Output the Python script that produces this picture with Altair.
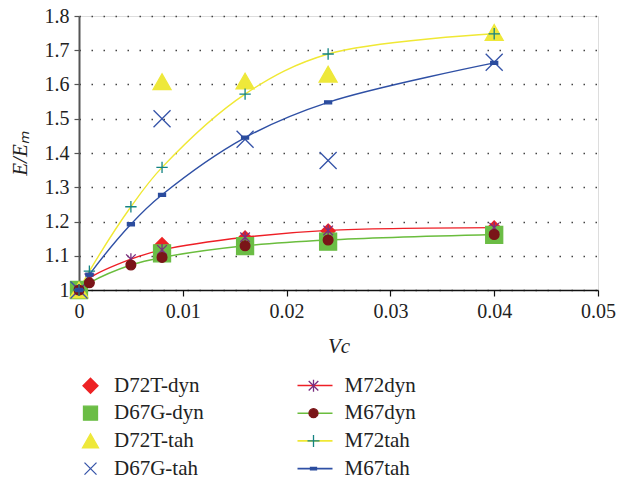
import altair as alt
import pandas as pd

# ---------------- data ----------------
vc_m = [0, 0.001, 0.005, 0.008, 0.016, 0.024, 0.04]
m72dyn = [1.0, 1.034, 1.09, 1.117, 1.154, 1.174, 1.182]
m67dyn = [1.0, 1.021, 1.073, 1.095, 1.129, 1.146, 1.162]
m72tah = [1.0, 1.055, 1.243, 1.358, 1.572, 1.689, 1.748]
m67tah = [1.0, 1.045, 1.192, 1.278, 1.445, 1.548, 1.663]

vc_d = [0, 0.008, 0.016, 0.024, 0.04]
d72t_dyn = [1.0, 1.132, 1.152, 1.172, 1.181]
d67g_dyn = [1.0, 1.107, 1.128, 1.141, 1.161]
d72t_tah = [1.0, 1.608, 1.61, 1.63, 1.752]
d67g_tah = [1.0, 1.5, 1.44, 1.378, 1.665]

m_names = ["M72dyn", "M67dyn", "M72tah", "M67tah"]
d_names = ["D72T-dyn", "D67G-dyn", "D72T-tah", "D67G-tah"]
legend_order = d_names + m_names

FONT = "Liberation Serif"

# marker shapes (unit box -1..1 maps to 16 px at size 256)
shape_map = {
    "D72T-dyn": "M0,-0.94L0.94,0L0,0.94L-0.94,0Z",
    "D67G-dyn": "M-0.875,-0.875L0.875,-0.875L0.875,0.875L-0.875,0.875Z",
    "D72T-tah": "M0,-0.875L1,0.875L-1,0.875Z",
    "D67G-tah": "M-0.75,-0.75L0.75,0.75M-0.75,0.75L0.75,-0.75",
    "M72dyn": "M0,-0.75L0,0.75M-0.6,-0.6L0.6,0.6M-0.6,0.6L0.6,-0.6",
    "M67dyn": "M-0.5625,0A0.5625,0.5625 0 1,0 0.5625,0A0.5625,0.5625 0 1,0 -0.5625,0Z",
    "M72tah": "M-0.75,0L0.75,0M0,-0.75L0,0.75",
    "M67tah": "M-0.375,-0.16L0.375,-0.16L0.375,0.16L-0.375,0.16Z",
}
fill_map = {
    "D72T-dyn": "#ed2224", "D67G-dyn": "#6bbd45", "D72T-tah": "#eee83a", "D67G-tah": "transparent",
    "M72dyn": "transparent", "M67dyn": "#7a1518", "M72tah": "transparent", "M67tah": "#2b4c9e",
}
stroke_map = {
    "D72T-dyn": "#ed2224", "D67G-dyn": "#6bbd45", "D72T-tah": "#eee83a", "D67G-tah": "#3553a8",
    "M72dyn": "#7b2e80", "M67dyn": "#7a1518", "M72tah": "#148383", "M67tah": "#2b4c9e",
}
# marker area on the plot (symbol size units)
size_map = {
    "D72T-dyn": 223, "D67G-dyn": 377, "D72T-tah": 324, "D67G-tah": 514,
    "M72dyn": 256, "M67dyn": 300, "M72tah": 230, "M67tah": 348,
}
line_colors = ["#ee1f26", "#6abd3d", "#f0e834", "#2f50a5"]

m_df = pd.DataFrame(
    [{"vc": x, "e": y, "series": n} for n, ys in zip(m_names, [m72dyn, m67dyn, m72tah, m67tah]) for x, y in zip(vc_m, ys)]
)
d_df = pd.DataFrame(
    [{"vc": x, "e": y, "series": n} for n, ys in zip(d_names, [d72t_dyn, d67g_dyn, d72t_tah, d67g_tah]) for x, y in zip(vc_d, ys)]
)
pts_df = pd.concat([d_df, m_df], ignore_index=True)
pts_df["sz"] = pts_df["series"].map(size_map)

xscale = alt.Scale(domain=[0, 0.05], nice=False, zero=False)
yscale = alt.Scale(domain=[1, 1.8], nice=False, zero=False)

x_axis = alt.Axis(values=[0, 0.01, 0.02, 0.03, 0.04, 0.05], format=".2~f", grid=False, labelFlush=False,
                  labelOverlap=False, domainColor="#111", domainWidth=1.5, tickColor="#111", tickSize=6,
                  tickWidth=1.2, labelPadding=5, labelFont=FONT, labelFontSize=20, labelColor="#222",
                  titleFont=FONT, titleFontSize=21, titleFontStyle="italic", titleFontWeight="normal",
                  titleColor="#222", titlePadding=14)
y_axis = alt.Axis(values=[1, 1.1, 1.2, 1.3, 1.4, 1.5, 1.6, 1.7, 1.8], format=".2~f", grid=True, labelFlush=False,
                  labelOverlap=False, gridColor="#444", gridDash=[1.5, 10.5], gridWidth=1.3,
                  domainColor="#555", domainWidth=2, tickColor="#555", tickSize=5, tickWidth=1.2,
                  labelPadding=5, labelFont=FONT, labelFontSize=20, labelColor="#222",
                  titleFont=FONT, titleFontSize=21, titleFontStyle="italic", titleFontWeight="normal",
                  titleColor="#222", titlePadding=14)

x_enc = alt.X("vc:Q", scale=xscale, title="Vc", axis=x_axis)
y_enc = alt.Y("e:Q", scale=yscale, title="E/Eₘ", axis=y_axis)

# ---- M lines (legend carries the M labels) ----
line_legend = alt.Legend(title=None, orient="none", legendX=225.5, legendY=359, direction="vertical",
                         symbolType="M-2.1875,0L2.1875,0", symbolSize=256, symbolStrokeWidth=1.6,
                         labelFont=FONT, labelFontSize=21, labelColor="#222", labelOffset=19,
                         rowPadding=5.7, padding=0, zindex=1)
lines = alt.Chart(m_df).mark_line(interpolate="catmull-rom", strokeWidth=1.4).encode(
    x=x_enc, y=y_enc,
    color=alt.Color("series:N", scale=alt.Scale(domain=m_names, range=line_colors), legend=line_legend),
)

# ---- all markers (legend carries the D labels and all marker symbols) ----
mk_legend = alt.Legend(title=None, orient="none", legendX=1, legendY=359, columns=2, columnPadding=99,
                       direction="vertical", symbolSize=256, symbolStrokeWidth=1.3,
                       labelExpr="indexof(datum.label, 'M') === 0 ? '' : datum.label",
                       labelFont=FONT, labelFontSize=21, labelColor="#222", labelOffset=13,
                       rowPadding=5.7, padding=0, zindex=2)
pts = alt.Chart(pts_df).mark_point(opacity=1, fillOpacity=1, strokeOpacity=1).encode(
    x=x_enc, y=y_enc,
    shape=alt.Shape("series:N", scale=alt.Scale(domain=legend_order, range=[shape_map[s] for s in legend_order]),
                    legend=mk_legend),
    fill=alt.Fill("series:N", scale=alt.Scale(domain=legend_order, range=[fill_map[s] for s in legend_order]),
                  legend=mk_legend),
    stroke=alt.Stroke("series:N", scale=alt.Scale(domain=legend_order, range=[stroke_map[s] for s in legend_order]),
                      legend=mk_legend),
    size=alt.Size("sz:Q", scale=None),
    strokeWidth=alt.value(1.3),
)

chart = alt.layer(lines, pts).properties(
    width=519, height=274,
    autosize=alt.AutoSizeParams(type="none"),
    padding={"left": 79, "top": 16, "right": 20, "bottom": 191},
).configure_view(
    stroke="#333", strokeWidth=1.5
).configure(background="white")

chart.save("out.html", embed_options={"renderer": "svg", "actions": False})
